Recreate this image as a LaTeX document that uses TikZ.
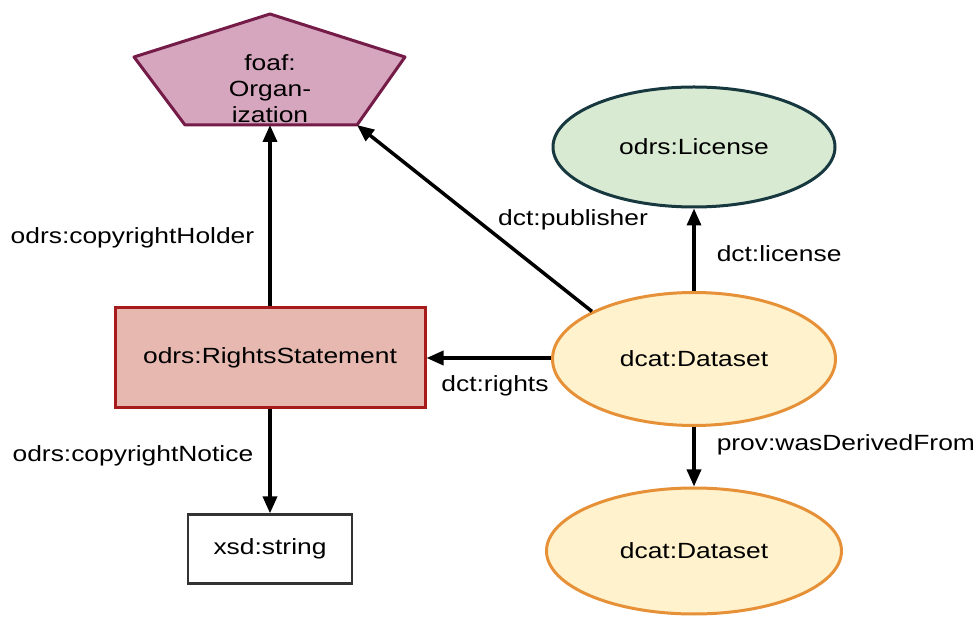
\documentclass[tikz,border=0pt]{standalone}
\usepackage{fontspec}
\setmainfont[FakeStretch=1.2]{Liberation Sans}
\usetikzlibrary{arrows.meta, shapes.geometric}

\definecolor{orgfill}{HTML}{D5A6BD}
\definecolor{orgline}{HTML}{741B47}
\definecolor{licfill}{HTML}{D9EAD3}
\definecolor{licline}{HTML}{17383F}
\definecolor{dsfill}{HTML}{FFF2CC}
\definecolor{dsline}{HTML}{E69138}
\definecolor{rsfill}{HTML}{E6B8AF}
\definecolor{rsline}{HTML}{A61C1C}

\begin{document}
\begin{tikzpicture}[x=1pt, y=-1pt, font=\fontsize{22}{26}\selectfont,
  arr/.style={line width=3.5pt, -{Triangle[length=17pt,width=14pt]}},
  lbl/.style={inner sep=2pt},
  dsnode/.style={ellipse, draw=dsline, fill=dsfill, line width=3pt},
]
  \useasboundingbox (0,0) rectangle (978,617);
  % 五边形 foaf:Organization
  \filldraw[draw=orgline, fill=orgfill, line width=3pt, line join=round]
    (134,57) -- (270,14) -- (405,57) -- (357,125) -- (185,125) -- cycle;
  \coordinate (org-b) at (270,125);
  \coordinate (org-br) at (357,125);
  \node[align=center, inner sep=0pt] (org) at (270,89) {foaf:\\Organ-\\ization};
  % 其余节点
  \node[ellipse, draw=licline, fill=licfill, line width=3pt,
    minimum width=282pt, minimum height=120pt] (lic) at (694,147) {odrs:License};
  \node[dsnode, minimum width=283pt, minimum height=133pt] (ds) at (694,359) {dcat:Dataset};
  \node[dsnode, minimum width=295pt, minimum height=126pt] (src) at (694,551) {dcat:Dataset};
  \node[rectangle, draw=rsline, fill=rsfill, line width=3pt,
    minimum width=310pt, minimum height=100pt] (rs) at (270,358) {odrs:RightsStatement};
  \node[rectangle, draw=black!80, line width=2.2pt,
    minimum width=164pt, minimum height=69pt] (str) at (270,549) {xsd:string};
  % 连线
  \draw[arr] (rs.north) -- node[lbl, pos=0.38, anchor=east, xshift=-12pt] {odrs:copyrightHolder} (org-b);
  \draw[arr] (ds.155) -- node[lbl, pos=0.5, anchor=west, xshift=20pt, yshift=-2pt] {dct:publisher} (org-br);
  \draw[arr] (ds.north) -- node[lbl, pos=0.5, anchor=west, xshift=19pt, yshift=-4pt] {dct:license} (lic.south);
  \draw[arr] (ds.west |- rs.east) -- node[lbl, pos=0.45, anchor=north, yshift=-14pt] {dct:rights} (rs.east);
  \draw[arr] (rs.south) -- node[lbl, pos=0.45, anchor=east, xshift=-13pt] {odrs:copyrightNotice} (str.north);
  \draw[arr] (ds.south) -- node[lbl, pos=0.3, anchor=west, xshift=19pt] {prov:wasDerivedFrom} (src.north);
\end{tikzpicture}
\end{document}
